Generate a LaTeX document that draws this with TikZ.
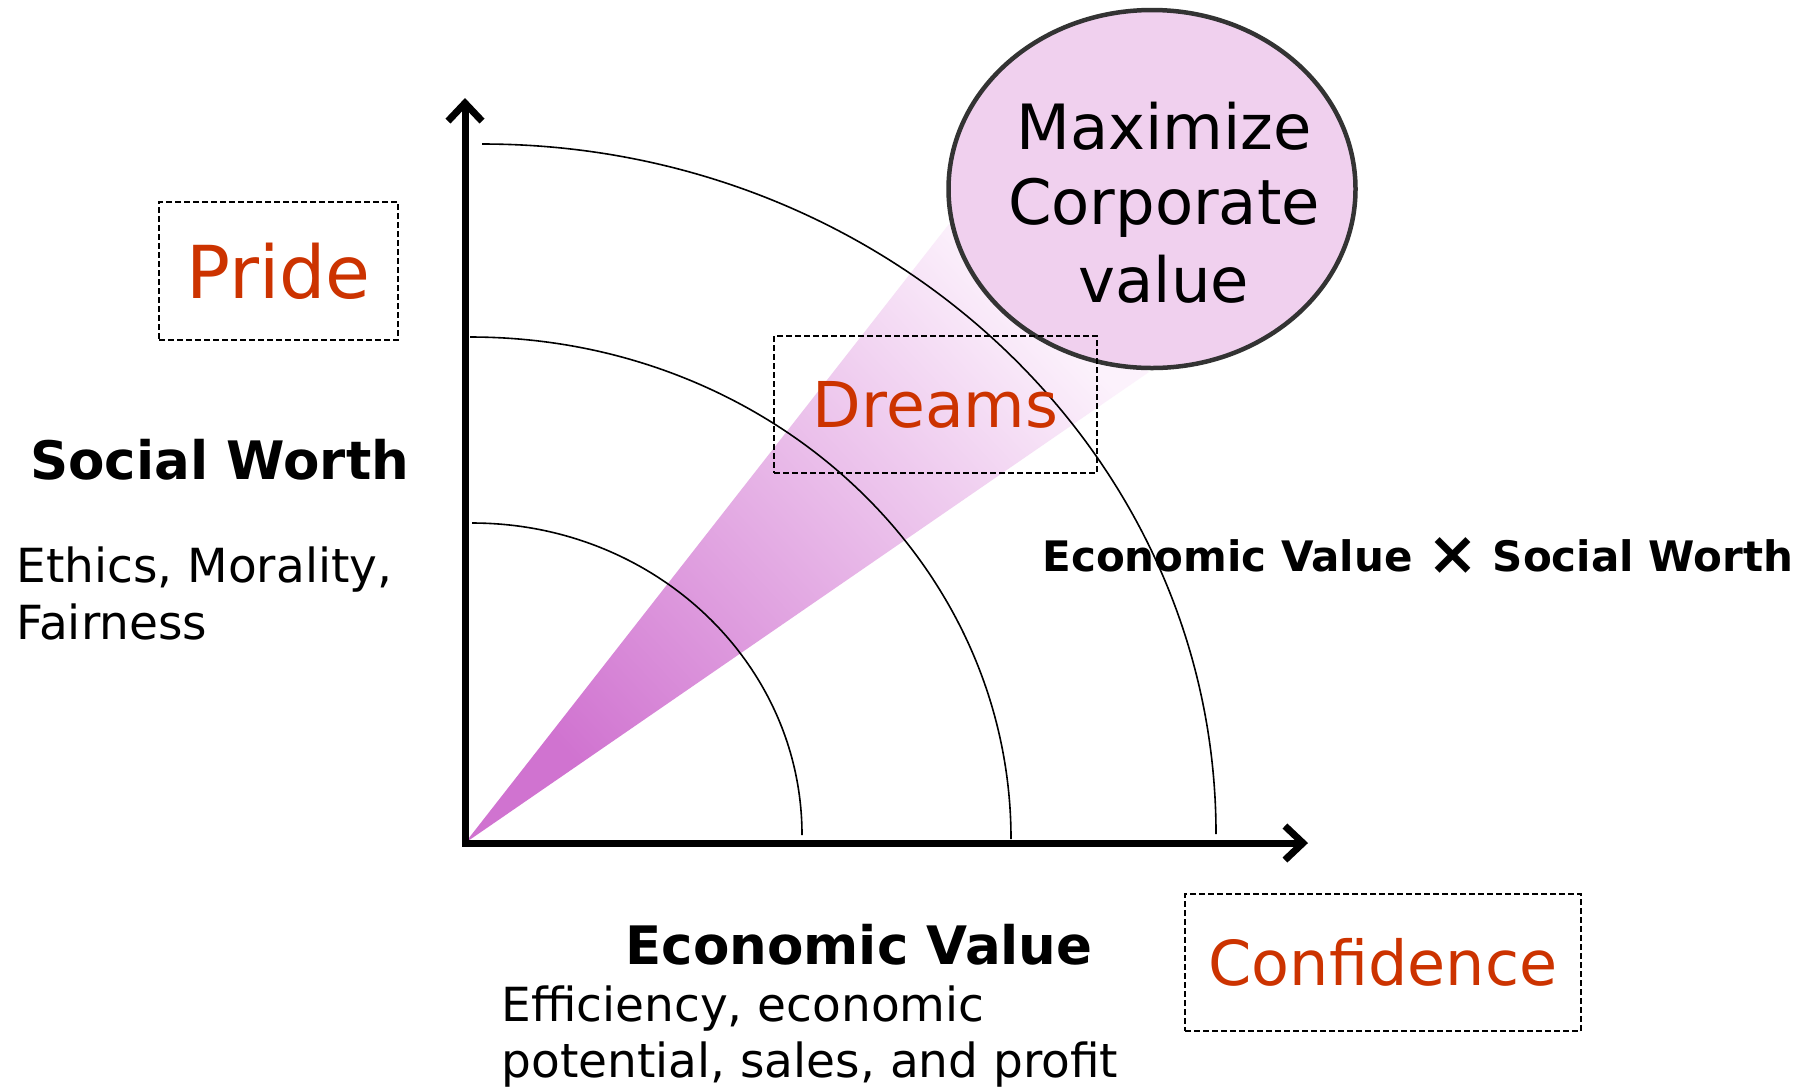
\documentclass[tikz,border=0pt]{standalone}
\usepackage{fontspec}
\setmainfont{DejaVu Sans}
\usetikzlibrary{arrows.meta,shapes.geometric}
\definecolor{accent}{RGB}{204,51,0}
\definecolor{beamdark}{RGB}{208,115,208}
\definecolor{beammid}{RGB}{222,155,222}
\definecolor{beamlight}{RGB}{252,242,252}
\definecolor{goalfill}{RGB}{240,208,238}
\definecolor{goaledge}{RGB}{51,51,51}
\newcommand{\timesmark}{\raisebox{-0.08em}{\scalebox{1.45}{×}}}
\begin{document}
\begin{tikzpicture}[x=0.5pt,y=-0.5pt,
  dashbox/.style={draw=black, dash pattern=on 3pt off 1.5pt, line width=1.1pt, inner sep=0pt, text=accent},
  axisline/.style={line width=3.5pt, {Straight Barb[length=9pt,width=17pt]}-{Straight Barb[length=9pt,width=17pt]}},
  arcline/.style={line width=0.8pt},
  body/.style={font=\fontsize{23.5}{28}\selectfont, anchor=base west, inner sep=0pt},
  head/.style={font=\fontsize{26.5}{32}\selectfont\bfseries, anchor=base west, inner sep=0pt},
  goaltext/.style={font=\fontsize{31.2}{38}\selectfont, anchor=base, inner sep=0pt},
]
\path[use as bounding box, fill=white] (0,0) rectangle (1807,1089);

\coordinate (O) at (465,843);
\coordinate (ytip) at (465,98);
\coordinate (xtip) at (1308,843);
\coordinate (beamA) at (949,224);
\coordinate (beamB) at (1149,372);

% beam
\shade[top color=beamlight, middle color=beammid, bottom color=beamdark, shading angle=-47] (O) -- (beamA) -- (beamB) -- cycle;

% arcs
\draw[arcline] (472,523) arc[start angle=-90, end angle=0, x radius=330, y radius=312];
\draw[arcline] (470,337) arc[start angle=-90, end angle=0, x radius=541, y radius=502];
\draw[arcline] (482,144) arc[start angle=-90, end angle=0, x radius=734, y radius=690];

% axes
\draw[axisline] (ytip) -- (O) -- (xtip);

% goal ellipse
\node[ellipse, draw=goaledge, fill=goalfill, line width=2.25pt, minimum width=203.5pt, minimum height=179pt, inner sep=0pt] (goal) at (1152,189) {};
\node[goaltext] (max1) at (1164,149) {Maximize};
\node[goaltext] (max2) at (1164,224) {Corporate};
\node[goaltext] (max3) at (1164,302) {value};

% dashed boxes
\node[dashbox, minimum width=119.5pt, minimum height=69pt, font=\fontsize{36.5}{43}\selectfont] (pride) at (278.5,271) {Pride};
\node[dashbox, minimum width=161.5pt, minimum height=68.5pt, font=\fontsize{31.6}{38}\selectfont] (dreams) at (935.5,404.5) {Dreams};
\node[dashbox, minimum width=198pt, minimum height=68.5pt, font=\fontsize{31}{37}\selectfont] (conf) at (1383,962.5) {Confidence};

% labels
\node[head] (sw) at (30,479) {Social Worth};
\node[body] (eth1) at (16,582) {Ethics, Morality,};
\node[body] (eth2) at (16,639) {Fairness};
\node[head] (ev) at (625,964) {Economic Value};
\node[body] (eff1) at (501,1021) {Efficiency, economic};
\node[body] (eff2) at (501,1077) {potential, sales, and profit};
\node[font=\fontsize{21}{26}\selectfont\bfseries, anchor=base west, inner sep=0pt] (prod) at (1042,571) {Economic Value \timesmark{} Social Worth};
\end{tikzpicture}
\end{document}
